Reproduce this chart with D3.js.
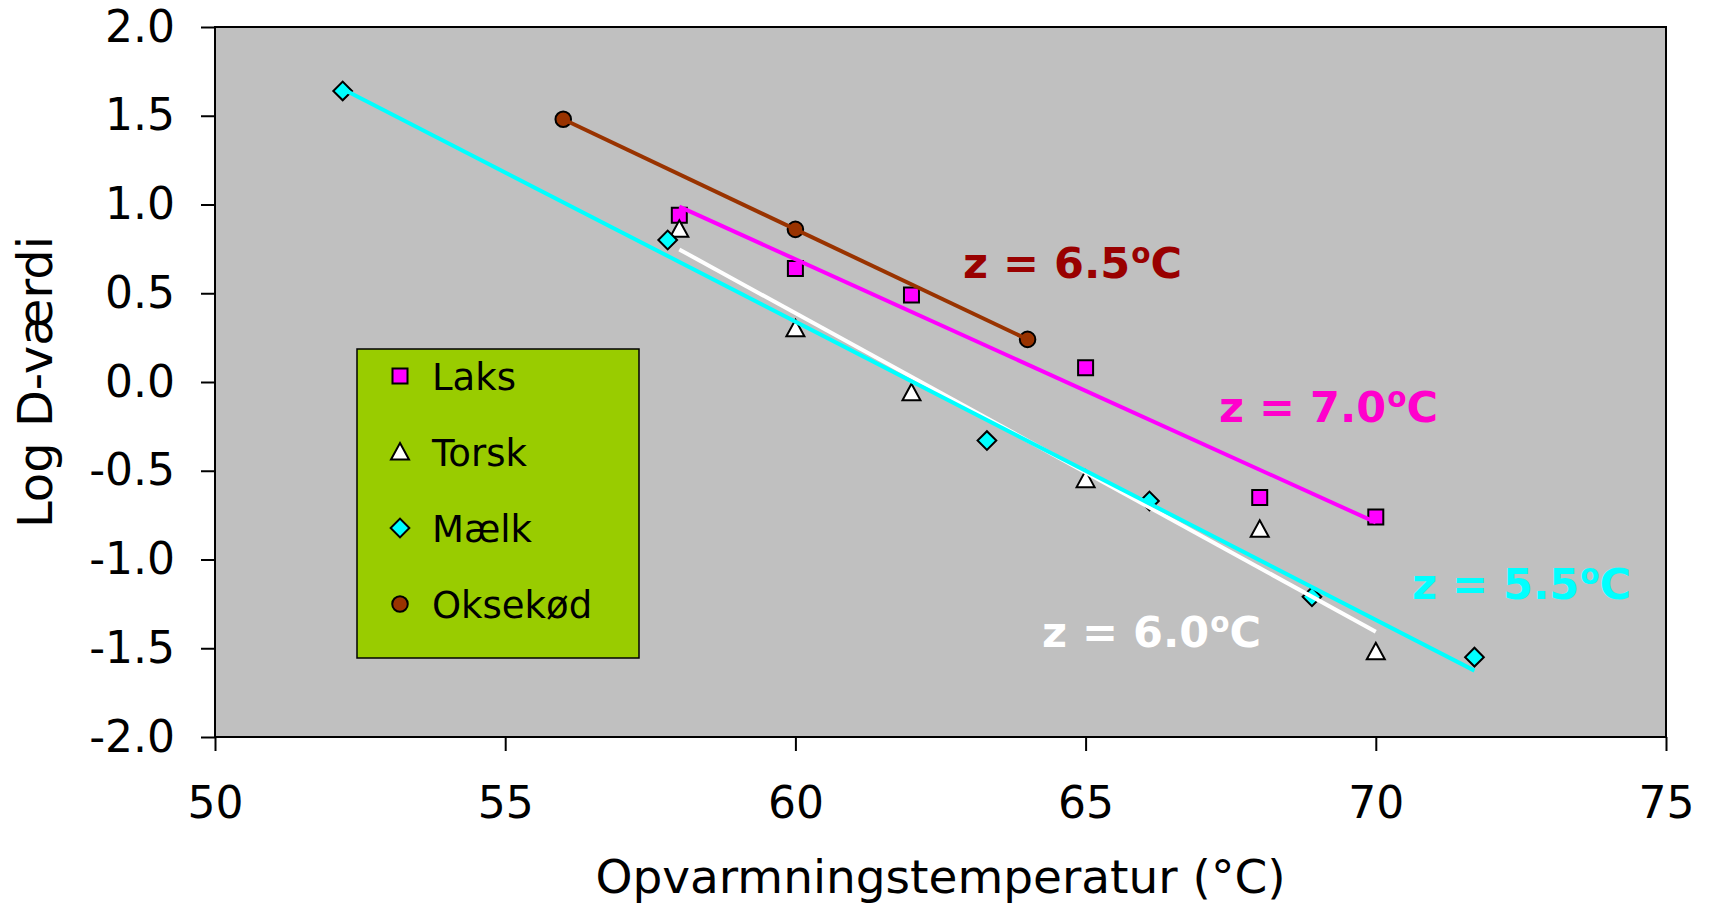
<!DOCTYPE html>
<html>
<head>
<meta charset="utf-8">
<script src="https://cdn.jsdelivr.net/npm/d3@7"></script>
<style>
  body { margin: 0; background: #fff; }
  text { font-family: "DejaVu Sans", Verdana, sans-serif; }
</style>
</head>
<body>
<div id="chart"></div>
<script>
// data
var seriesNames = ["Laks", "Torsk", "Mælk", "Oksekød"];
var laksX = [58, 60, 62, 65, 68, 70];
var laksY = [0.94, 0.64, 0.49, 0.08, -0.65, -0.76];
var torskX = [58, 60, 62, 65, 68, 70];
var torskY = [0.86, 0.30, -0.06, -0.55, -0.83, -1.52];
var maelkX = [52.2, 57.8, 63.3, 66.1, 68.9, 71.7];
var maelkY = [1.64, 0.80, -0.33, -0.67, -1.21, -1.55];
var oksekoedX = [56, 60, 64];
var oksekoedY = [1.48, 0.86, 0.24];
var zValues = ["6.5", "7.0", "5.5", "6.0"];
var xTicks = [50, 55, 60, 65, 70, 75];
var yTicks = [-2, -1.5, -1, -0.5, 0, 0.5, 1, 1.5, 2];

var w = 1711, h = 903;
var margin = {top: 27, right: 45, bottom: 166, left: 215};

var svg = d3.select("#chart").append("svg")
    .attr("width", w)
    .attr("height", h);

var x = d3.scaleLinear().domain([50, 75]).range([margin.left, w - margin.right]);
var y = d3.scaleLinear().domain([-2, 2]).range([h - margin.bottom, margin.top]);

function zip(xs, ys) {
  return xs.map(function(v, i) { return {x: v, y: ys[i]}; });
}

// least squares fit, drawn from first to last x like an Excel trendline
function fit(pts) {
  var mx = d3.mean(pts, function(d) { return d.x; });
  var my = d3.mean(pts, function(d) { return d.y; });
  var sxy = d3.sum(pts, function(d) { return (d.x - mx) * (d.y - my); });
  var sxx = d3.sum(pts, function(d) { return (d.x - mx) * (d.x - mx); });
  var b = sxy / sxx, a = my - b * mx;
  var x0 = d3.min(pts, function(d) { return d.x; }), x1 = d3.max(pts, function(d) { return d.x; });
  return [{x: x0, y: a + b * x0}, {x: x1, y: a + b * x1}];
}

var series = [
  {name: seriesNames[0], pts: zip(laksX, laksY), fill: "#ff00ff", line: "#ff00ff", shape: "square"},
  {name: seriesNames[1], pts: zip(torskX, torskY), fill: "#ffffff", line: "#ffffff", shape: "triangle"},
  {name: seriesNames[2], pts: zip(maelkX, maelkY), fill: "#00ffff", line: "#00ffff", shape: "diamond"},
  {name: seriesNames[3], pts: zip(oksekoedX, oksekoedY), fill: "#993300", line: "#993300", shape: "circle"}
];

function markerPath(shape) {
  if (shape == "square") return d3.symbol().type(d3.symbolSquare).size(225)();
  if (shape == "diamond") return d3.symbol().type(d3.symbolSquare).size(175)();
  if (shape == "circle") return d3.symbol().type(d3.symbolCircle).size(190)();
  return "M0,-9L9,7.5L-9,7.5Z";
}

// plot area
svg.append("rect")
    .attr("x", x(50)).attr("y", y(2))
    .attr("width", x(75) - x(50)).attr("height", y(-2) - y(2))
    .attr("fill", "#c0c0c0");

// axes
var yAxis = svg.append("g")
    .attr("transform", "translate(" + margin.left + ",0)")
    .call(d3.axisLeft(y).tickValues(yTicks).tickSize(14).tickPadding(26)
      .tickFormat(function(d) { return d.toFixed(1); }));
var xAxis = svg.append("g")
    .attr("transform", "translate(0," + (h - margin.bottom) + ")")
    .call(d3.axisBottom(x).tickValues(xTicks).tickSize(14).tickPadding(36));
[xAxis, yAxis].forEach(function(g) {
  g.select(".domain").remove();
  g.selectAll(".tick line").attr("stroke", "#000").attr("stroke-width", 2);
  g.selectAll(".tick text").attr("fill", "#000").style("font-size", "44px");
});

// markers first, trendlines over them
var marks = svg.append("g");
series.forEach(function(s) {
  marks.selectAll(null)
      .data(s.pts)
    .enter().append("path")
      .attr("d", markerPath(s.shape))
      .attr("transform", function(d) {
        return "translate(" + x(d.x) + "," + y(d.y) + ")" + (s.shape == "diamond" ? " rotate(45)" : "");
      })
      .attr("fill", s.fill)
      .attr("stroke", "#000")
      .attr("stroke-width", 2);
});

var line = d3.line().x(function(d) { return x(d.x); }).y(function(d) { return y(d.y); });
[1, 2, 0, 3].forEach(function(i) {
  svg.append("path")
      .attr("d", line(fit(series[i].pts)))
      .attr("fill", "none")
      .attr("stroke", series[i].line)
      .attr("stroke-width", 4);
});

// plot border
svg.append("rect")
    .attr("x", x(50)).attr("y", y(2))
    .attr("width", x(75) - x(50)).attr("height", y(-2) - y(2))
    .attr("fill", "none").attr("stroke", "#000").attr("stroke-width", 2);

// legend
var legend = svg.append("g").attr("transform", "translate(357,349)");
legend.append("rect")
    .attr("width", 282).attr("height", 309)
    .attr("fill", "#99cc00").attr("stroke", "#000").attr("stroke-width", 1.5);
series.forEach(function(s, i) {
  var yy = 27 + i * 76;
  legend.append("path")
      .attr("d", markerPath(s.shape))
      .attr("transform", "translate(43," + yy + ")" + (s.shape == "diamond" ? " rotate(45)" : ""))
      .attr("fill", s.fill).attr("stroke", "#000").attr("stroke-width", 2);
  legend.append("text")
      .attr("x", 75).attr("y", yy + 14)
      .style("font-size", "37px")
      .text(s.name);
});

// z labels
var zPos = [[963, 278], [1219, 422], [1412, 599], [1042, 647]];
var zColors = ["#990000", "#ff00cc", "#00ffff", "#ffffff"];
zValues.forEach(function(v, i) {
  var t = svg.append("text")
      .attr("x", zPos[i][0]).attr("y", zPos[i][1])
      .attr("fill", zColors[i])
      .style("font-size", "43px").style("font-weight", "bold");
  t.append("tspan").text("z = " + v);
  t.append("tspan").attr("dx", 1).attr("dy", -15).style("font-size", "28px").text("o");
  t.append("tspan").attr("dy", 15).text("C");
});

// axis titles
svg.append("text")
    .attr("x", (x(50) + x(75)) / 2).attr("y", 893)
    .attr("text-anchor", "middle")
    .style("font-size", "47px")
    .text("Opvarmningstemperatur (°C)");
svg.append("text")
    .attr("transform", "translate(52," + y(0) + ") rotate(-90)")
    .attr("text-anchor", "middle")
    .style("font-size", "48px")
    .text("Log D-værdi");
</script>
</body>
</html>
